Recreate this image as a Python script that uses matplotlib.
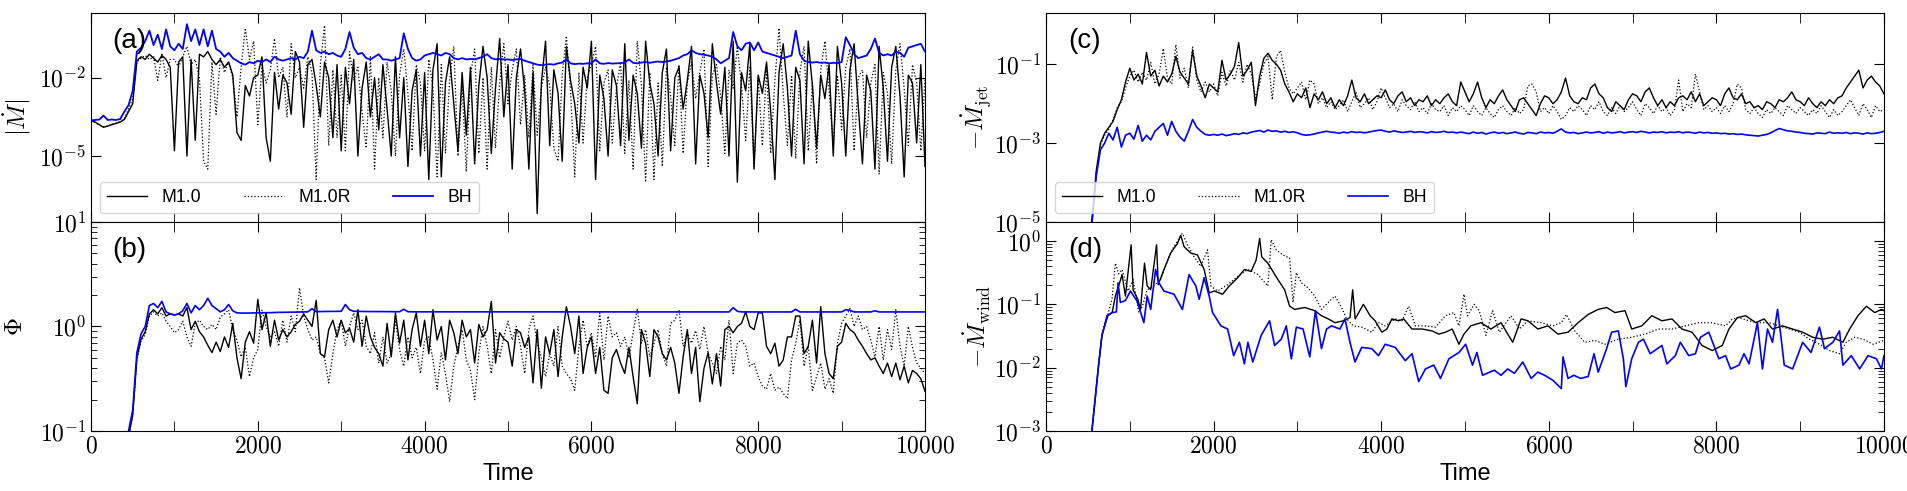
import numpy as np
import matplotlib
matplotlib.use('Agg')
import matplotlib.pyplot as plt
from matplotlib.ticker import (FixedLocator, MultipleLocator, FuncFormatter,
                               NullFormatter, NullLocator, LogLocator)

plt.rcParams['font.family'] = ['Liberation Sans', 'DejaVu Sans']
plt.rcParams['mathtext.fontset'] = 'cm'

# sample times for panels (a)-(c), every 50 time units
time = np.arange(0, 10001, 50)

# ---- panel (a): log10 |Mdot| ----
m10_a = [
    -3.65, -3.70, -3.80, -3.90, -3.85, -3.80, -3.75, -3.70, -3.60, -3.30,
    -3.00, -1.35, -1.20, -1.30, -1.10, -1.25, -1.40, -1.15, -1.30, -1.60,
    -4.80, -1.40, -1.20, -5.00, -1.30, -4.40, -1.10, -1.20, -1.00, -1.30,
    -1.50, -1.30, -1.60, -1.40, -1.90, -4.10, -4.40, -2.30, -2.70, -2.00,
    -1.90, -1.20, -4.30, -5.20, -1.80, -3.20, -1.90, -2.20, -3.40, -1.00,
    -1.40, -3.90, -1.50, -1.30, -2.30, -3.50, -1.40, -2.00, -4.30, -1.50,
    -4.80, -1.60, -3.00, -1.30, -5.00, -2.40, -1.40, -3.50, -2.00, -4.00,
    -1.50, -3.20, -5.00, -1.20, -4.30, -2.00, -5.40, -2.50, -1.70, -5.00,
    -1.80, -5.90, -1.70, -0.70, -5.80, -2.20, -1.20, -3.00, -4.80, -1.80,
    -4.20, -1.60, -5.30, -2.30, -0.80, -2.00, -4.90, -2.40, -0.50, -3.50,
    -1.50, -5.50, -2.00, -0.90, -2.50, -5.50, -1.80, -7.20, -2.20, -0.60,
    -4.60, -1.70, -2.60, -5.20, -0.80, -2.10, -3.00, -4.50, -1.60, -2.40,
    -0.60, -5.90, -1.90, -2.80, -5.00, -1.70, -2.30, -4.60, -0.70, -4.40,
    -1.90, -2.60, -4.70, -0.60, -2.20, -3.00, -5.00, -1.80, -0.90, -4.80,
    -2.00, -1.60, -3.20, -2.10, -0.80, -5.30, -1.90, -2.60, -4.30, -0.70,
    -2.20, -3.40, -1.60, -5.00, -0.60, -6.00, -1.80, -2.50, -0.70, -5.50,
    -1.90, -2.60, -1.40, -3.30, -5.90, -1.80, -0.70, -2.40, -5.00, -1.60,
    -2.10, -5.30, -0.60, -2.30, -4.70, -1.90, -2.80, -1.50, -5.00, -0.80,
    -2.20, -5.00, -1.70, -0.70, -3.10, -5.30, -1.90, -2.50, -5.50, -0.80,
    -2.40, -5.20, -1.60, -0.80, -2.70, -5.80, -1.90, -2.20, -4.50, -1.50,
    -5.40]
m10r_a = [
    -3.66, -3.72, -3.82, -3.88, -3.86, -3.78, -3.74, -3.68, -3.55, -3.20,
    -2.80, -1.40, -1.25, -1.15, -1.30, -1.20, -2.10, -1.10, -2.00, -1.30,
    -1.30, -1.60, -1.20, -0.80, -1.50, -1.30, -2.00, -5.20, -5.50, -1.40,
    -3.40, -1.20, -1.80, -1.40, -2.00, -3.50, -1.60, -0.10, -1.30, -0.60,
    -3.80, -1.50, -2.20, -1.70, -0.50, -2.00, -1.60, -3.50, -0.70, -2.00,
    -1.60, -2.40, -1.20, -1.80, -5.90, -1.50, 0.00, -4.60, -1.70, -4.30,
    -1.90, -4.80, -1.00, -2.10, -1.60, -3.30, -4.70, -1.20, -5.50, -2.00,
    -4.30, -1.40, -2.50, -5.00, -1.90, -0.90, -2.60, -4.80, -1.50, -2.20,
    -4.80, -1.30, -2.40, -5.80, -1.50, -4.90, -2.10, -0.80, -5.00, -2.30,
    -5.60, -1.90, -0.90, -4.90, -2.00, -5.50, -1.60, -4.70, -2.20, -0.70,
    -3.00, -1.70, -0.90, -3.80, -1.90, -4.30, -1.50, -4.20, -2.40, -1.60,
    -2.30, -4.70, -5.20, -1.90, -0.40, -2.50, -5.80, -1.80, -4.50, -2.00,
    -1.50, -0.80, -4.80, -2.20, -1.70, -4.50, -2.40, -1.40, -4.90, -2.10,
    -5.50, -0.60, -2.30, -6.00, -1.80, -5.90, -2.20, -5.40, -1.60, -2.70,
    -4.60, -1.50, -4.90, -2.20, -1.40, -2.80, -1.80, -0.90, -5.40, -1.90,
    -1.50, -2.70, -4.90, -1.70, -2.40, -0.80, -2.30, -4.40, -1.60, -5.40,
    -2.00, -4.60, -1.70, -4.90, -2.10, -0.10, -2.60, -4.60, -1.90, -5.10,
    -1.80, -0.80, -4.80, -2.20, -5.30, -1.70, -0.60, -2.50, -4.60, -1.90,
    -4.00, -1.60, -0.90, -4.80, -2.00, -1.70, -4.30, -2.20, -1.50, -5.70,
    -1.80, -2.60, -5.30, -1.70, -0.70, -2.40, -4.60, -1.50, -2.20, -4.80,
    -2.00]
bh_a = [
    -3.63, -3.62, -3.60, -3.45, -3.62, -3.60, -3.62, -3.58, -3.30, -3.05,
    -2.50, -1.00, -0.85, -0.60, -0.20, -0.75, -0.35, -0.90, -0.15, -0.80,
    -0.95, -0.70, -0.90, 0.05, -0.60, -0.15, -0.75, -0.15, -0.80, -0.20,
    -0.90, -1.00, -1.20, -1.05, -1.25, -1.35, -1.45, -1.50, -1.40, -1.45,
    -1.35, -1.40, -1.30, -1.40, -1.20, -1.30, -1.35, -1.30, -1.25, -1.30,
    -1.20, -1.25, -1.00, -0.20, -0.95, -1.05, -1.00, -1.10, -1.05, -1.15,
    -1.20, -0.90, -0.25, -0.85, -1.10, -1.05, -1.25, -1.30, -1.20, -1.10,
    -1.30, -1.30, -1.35, -1.30, -1.25, -0.30, -0.90, -1.25, -1.35, -1.30,
    -1.15, -1.10, -1.05, -1.10, -1.15, -1.05, -1.10, -1.25, -1.30, -1.25,
    -1.30, -1.28, -1.30, -1.25, -1.20, -1.10, -1.25, -1.30, -1.28, -1.30,
    -1.30, -1.32, -1.30, -1.28, -1.35, -1.40, -1.45, -1.50, -1.52, -1.50,
    -1.48, -1.50, -1.45, -1.42, -1.30, -1.45, -1.48, -1.46, -1.47, -1.45,
    -1.45, -1.30, -1.45, -1.47, -1.44, -1.46, -1.45, -1.44, -1.42, -1.30,
    -1.43, -1.45, -1.42, -1.40, -1.43, -1.40, -1.38, -1.40, -1.38, -1.35,
    -1.30, -1.25, -1.15, -1.10, -0.95, -1.05, -1.10, -1.12, -1.15, -1.20,
    -1.30, -1.45, -1.35, -1.25, -0.25, -0.80, -0.95, -0.70, -0.65, -0.95,
    -0.65, -1.00, -1.05, -1.10, -1.15, -1.20, -1.25, -1.20, -1.15, -0.20,
    -1.10, -1.35, -1.40, -1.42, -1.40, -1.43, -1.42, -1.45, -1.43, -1.44,
    -1.40, -0.45, -0.75, -1.10, -1.25, -1.20, -1.15, -0.90, -0.50, -1.05,
    -1.15, -1.10, -1.15, -1.00, -1.05, -1.20, -0.85, -0.80, -0.75, -0.70,
    -1.00]

# ---- panel (b): log10 Phi ----
m10_b = [
    -1.60, -1.60, -1.60, -1.60, -1.60, -1.60, -1.60, -1.50, -1.35, -1.05,
    -0.85, -0.30, -0.12, -0.05, 0.12, 0.16, 0.12, 0.18, 0.10, 0.12,
    0.11, 0.12, 0.10, 0.18, -0.03, 0.05, -0.05, -0.10, -0.18, -0.25,
    -0.15, -0.24, -0.10, -0.20, 0.03, -0.30, -0.50, -0.15, -0.05, -0.16,
    0.26, -0.03, 0.13, -0.19, 0.06, -0.13, -0.03, -0.10, -0.05, 0.02,
    0.05, 0.12, 0.06, 0.00, 0.25, -0.26, -0.29, -0.03, 0.06, -0.10,
    0.06, -0.06, -0.02, -0.15, 0.16, -0.19, 0.10, -0.10, -0.20, -0.26,
    -0.38, 0.03, -0.29, 0.13, -0.16, 0.06, -0.32, -0.03, 0.13, -0.19,
    0.06, -0.26, 0.16, -0.13, 0.00, -0.32, 0.06, -0.06, -0.26, 0.06,
    -0.10, -0.03, -0.35, 0.02, -0.10, -0.03, 0.24, -0.35, -0.06, -0.12,
    -0.15, -0.38, -0.03, -0.06, -0.20, -0.10, -0.54, -0.03, -0.59, -0.10,
    -0.26, -0.03, -0.48, -0.10, 0.19, 0.00, -0.26, 0.10, -0.45, -0.20,
    -0.10, -0.45, -0.20, -0.61, -0.64, -0.30, -0.22, -0.35, -0.45, -0.20,
    -0.48, -0.74, -0.03, -0.16, -0.48, -0.03, -0.10, -0.26, -0.32, -0.20,
    -0.35, -0.64, -0.29, -0.03, -0.45, -0.20, -0.72, -0.40, -0.25, -0.55,
    -0.26, -0.57, -0.03, 0.00, -0.06, 0.00, 0.03, 0.14, 0.00, -0.03,
    0.13, 0.13, -0.19, -0.26, -0.16, -0.38, -0.32, -0.10, -0.10, 0.10,
    0.10, -0.26, -0.19, 0.06, -0.35, 0.19, -0.26, -0.45, -0.50, -0.19,
    -0.15, 0.03, -0.03, -0.06, -0.13, -0.19, -0.26, -0.32, -0.30, -0.38,
    -0.45, -0.35, -0.48, -0.35, -0.51, -0.38, -0.54, -0.42, -0.45, -0.50,
    -0.62]
m10r_b = [
    -1.60, -1.60, -1.60, -1.60, -1.60, -1.60, -1.60, -1.50, -1.35, -1.05,
    -0.85, -0.32, -0.14, -0.08, 0.10, 0.14, 0.10, 0.13, 0.05, 0.00,
    -0.06, -0.03, 0.05, -0.10, -0.19, 0.03, 0.06, 0.00, -0.03, 0.02,
    -0.03, 0.09, 0.12, 0.16, -0.03, -0.13, -0.29, -0.20, -0.48, -0.30,
    -0.22, 0.16, 0.00, -0.10, -0.05, -0.19, 0.06, -0.15, 0.10, -0.05,
    0.37, 0.10, -0.03, -0.13, -0.10, -0.26, -0.30, -0.54, -0.26, -0.03,
    0.06, -0.19, 0.00, 0.13, -0.03, 0.06, -0.19, -0.26, -0.06, -0.35,
    -0.10, -0.35, -0.26, 0.06, -0.22, -0.38, -0.10, -0.30, -0.20, -0.45,
    -0.13, -0.10, -0.32, -0.60, -0.25, -0.45, -0.72, -0.38, -0.19, -0.03,
    -0.32, -0.42, -0.70, -0.26, 0.00, -0.19, -0.45, -0.03, -0.30, -0.10,
    0.05, -0.13, 0.00, -0.19, -0.45, -0.03, 0.10, -0.16, -0.30, -0.48,
    -0.26, -0.38, 0.00, -0.38, -0.45, -0.50, -0.61, -0.20, 0.06, -0.19,
    -0.06, -0.30, 0.13, -0.32, 0.10, -0.10, -0.06, -0.19, -0.10, -0.30,
    -0.06, 0.17, -0.16, -0.03, -0.29, -0.16, -0.03, -0.26, -0.38, 0.03,
    0.06, 0.16, -0.19, -0.06, -0.16, -0.04, -0.22, 0.00, -0.26, -0.35,
    -0.45, -0.19, -0.32, 0.06, -0.45, -0.16, -0.13, -0.19, -0.38, -0.35,
    -0.48, -0.57, -0.60, -0.45, -0.61, -0.58, -0.64, -0.69, -0.32, -0.16,
    0.06, -0.38, -0.19, -0.61, -0.48, -0.35, -0.60, -0.50, -0.64, -0.16,
    0.03, 0.10, 0.17, 0.00, 0.10, -0.03, 0.00, -0.13, -0.29, 0.00,
    -0.32, -0.03, -0.22, 0.16, -0.19, -0.38, 0.00, -0.20, -0.35, -0.40,
    -0.45]
bh_b = [
    -1.60, -1.60, -1.60, -1.60, -1.60, -1.60, -1.60, -1.50, -1.30, -1.00,
    -0.80, -0.25, -0.07, 0.00, 0.20, 0.22, 0.18, 0.24, 0.14, 0.12,
    0.11, 0.12, 0.15, 0.22, 0.13, 0.20, 0.16, 0.20, 0.27, 0.20,
    0.17, 0.14, 0.16, 0.21, 0.15, 0.13, 0.128, 0.128, 0.128, 0.130,
    0.130, 0.130, 0.132, 0.132, 0.134, 0.135, 0.135, 0.136, 0.137, 0.138,
    0.139, 0.140, 0.140, 0.170, 0.142, 0.143, 0.143, 0.144, 0.144, 0.145,
    0.145, 0.210, 0.160, 0.145, 0.144, 0.144, 0.143, 0.143, 0.142, 0.142,
    0.142, 0.142, 0.141, 0.141, 0.141, 0.165, 0.141, 0.140, 0.140, 0.140,
    0.140, 0.140, 0.140, 0.140, 0.139, 0.139, 0.139, 0.139, 0.139, 0.139,
    0.139, 0.139, 0.139, 0.139, 0.139, 0.139, 0.139, 0.139, 0.139, 0.139,
    0.139, 0.139, 0.139, 0.139, 0.139, 0.139, 0.139, 0.139, 0.139, 0.139,
    0.139, 0.139, 0.139, 0.139, 0.139, 0.139, 0.139, 0.139, 0.139, 0.139,
    0.139, 0.139, 0.139, 0.139, 0.139, 0.139, 0.139, 0.139, 0.139, 0.139,
    0.139, 0.139, 0.139, 0.139, 0.139, 0.139, 0.139, 0.139, 0.139, 0.139,
    0.139, 0.139, 0.139, 0.139, 0.139, 0.139, 0.139, 0.139, 0.139, 0.139,
    0.139, 0.139, 0.139, 0.139, 0.180, 0.145, 0.139, 0.139, 0.139, 0.139,
    0.139, 0.139, 0.139, 0.139, 0.139, 0.139, 0.139, 0.139, 0.139, 0.165,
    0.139, 0.139, 0.139, 0.139, 0.139, 0.139, 0.139, 0.139, 0.139, 0.139,
    0.139, 0.160, 0.155, 0.139, 0.139, 0.139, 0.139, 0.139, 0.150, 0.139,
    0.139, 0.139, 0.139, 0.139, 0.139, 0.139, 0.139, 0.139, 0.139, 0.139,
    0.139]

# ---- panel (c): log10 (-Mdot_jet) ----
m10_c = [
    -6.50, -6.50, -6.50, -6.50, -6.50, -6.50, -6.50, -6.50, -6.50, -6.00,
    -5.80, -4.90, -3.70, -3.00, -2.75, -2.60, -2.45, -2.15, -1.90, -1.45,
    -1.10, -1.40, -1.25, -1.50, -0.70, -1.30, -1.15, -1.55, -1.30, -1.45,
    -1.25, -0.80, -1.20, -1.35, -1.50, -0.65, -1.30, -1.55, -1.85, -1.50,
    -1.60, -1.70, -0.90, -1.40, -1.25, -1.05, -0.45, -1.30, -1.15, -0.95,
    -2.05, -1.30, -0.85, -0.72, -0.90, -1.00, -1.15, -1.50, -1.70, -1.95,
    -1.75, -1.85, -1.60, -2.10, -1.75, -1.90, -1.70, -2.00, -1.85, -2.10,
    -1.90, -2.05, -1.80, -1.40, -1.85, -1.95, -1.75, -2.00, -1.90, -1.80,
    -1.85, -1.65, -1.90, -2.00, -1.80, -1.70, -1.95, -1.85, -2.05, -1.90,
    -1.95, -1.80, -2.05, -1.90, -2.00, -1.85, -1.75, -1.95, -2.05, -1.45,
    -1.70, -1.95, -1.75, -1.45, -1.85, -2.10, -1.90, -2.00, -1.80, -1.65,
    -1.90, -2.05, -2.20, -1.90, -1.85, -2.00, -2.15, -2.30, -2.00, -1.80,
    -1.85, -2.00, -1.90, -1.70, -1.35, -1.80, -1.95, -2.00, -1.85, -1.90,
    -1.60, -1.50, -1.75, -1.85, -2.10, -2.20, -1.95, -2.05, -2.15, -1.90,
    -1.75, -1.80, -1.95, -1.70, -1.60, -1.85, -2.05, -1.90, -2.10, -1.95,
    -2.05, -1.85, -1.80, -1.90, -1.70, -1.95, -1.75, -2.05, -1.95, -1.85,
    -1.90, -2.05, -1.75, -1.60, -1.85, -1.90, -1.75, -2.00, -1.95, -2.10,
    -2.05, -2.15, -1.95, -2.00, -2.10, -1.90, -1.95, -1.85, -1.70, -1.90,
    -1.95, -2.05, -1.85, -2.00, -2.10, -1.95, -2.05, -1.90, -2.00, -1.85,
    -1.80, -1.60, -1.45, -1.30, -1.15, -1.60, -1.40, -1.30, -1.45, -1.55,
    -1.75]
m10r_c = [
    -6.50, -6.50, -6.50, -6.50, -6.50, -6.50, -6.50, -6.50, -6.50, -6.00,
    -5.80, -5.00, -3.75, -3.05, -2.80, -2.65, -2.40, -2.10, -1.95, -1.60,
    -1.30, -1.15, -1.45, -1.20, -1.40, -0.95, -1.50, -1.25, -0.60, -1.35,
    -1.50, -0.50, -1.35, -1.10, -1.60, -0.55, -1.40, -1.70, -1.45, -1.70,
    -1.50, -1.80, -1.20, -1.55, -1.15, -1.40, -0.95, -1.45, -1.00, -1.25,
    -1.85, -1.50, -1.00, -0.80, -1.90, -0.80, -0.65, -1.20, -1.60, -1.75,
    -1.60, -1.45, -1.90, -1.40, -1.50, -2.00, -1.85, -2.10, -1.95, -2.15,
    -2.05, -1.90, -2.20, -1.95, -1.70, -2.10, -2.00, -1.85, -2.15, -1.95,
    -1.60, -1.85, -2.10, -2.00, -2.20, -1.90, -2.05, -2.15, -1.95, -2.20,
    -2.10, -2.25, -2.00, -2.15, -2.20, -2.05, -2.30, -2.10, -2.20, -2.05,
    -2.15, -2.30, -2.05, -2.20, -2.30, -2.10, -2.25, -2.35, -2.15, -2.05,
    -2.20, -2.30, -2.10, -2.25, -2.15, -1.55, -1.50, -1.70, -2.20, -2.10,
    -2.25, -2.05, -2.20, -2.40, -2.30, -2.10, -2.20, -2.05, -2.15, -2.30,
    -2.05, -2.15, -1.95, -2.20, -2.30, -2.10, -2.25, -2.05, -2.20, -2.10,
    -1.95, -2.15, -2.30, -2.00, -2.10, -2.25, -2.05, -2.20, -2.10, -2.30,
    -2.15, -1.40, -2.20, -2.00, -2.10, -1.25, -1.70, -2.15, -2.05, -2.20,
    -2.10, -2.25, -2.05, -2.20, -2.00, -1.50, -1.60, -2.15, -2.25, -2.10,
    -2.25, -2.35, -2.15, -2.25, -2.10, -2.20, -2.30, -2.05, -2.15, -2.25,
    -2.10, -2.20, -2.30, -2.15, -2.25, -2.05, -2.20, -2.35, -2.15, -2.30,
    -2.20, -2.05, -1.90, -2.10, -2.30, -2.00, -2.15, -2.35, -2.05, -2.20,
    -2.15]
bh_c = [
    -6.50, -6.50, -6.50, -6.50, -6.50, -6.50, -6.50, -6.50, -6.50, -6.00,
    -5.60, -5.00, -3.84, -3.17, -3.00, -2.75, -2.92, -2.60, -3.10, -2.80,
    -2.75, -2.90, -2.55, -2.95, -2.80, -2.92, -2.70, -2.60, -2.50, -2.80,
    -2.45, -2.70, -2.85, -2.95, -2.70, -2.40, -2.60, -2.70, -2.78, -2.80,
    -2.78, -2.80, -2.77, -2.81, -2.79, -2.76, -2.78, -2.74, -2.76, -2.72,
    -2.70, -2.68, -2.72, -2.67, -2.70, -2.69, -2.72, -2.70, -2.73, -2.71,
    -2.74, -2.78, -2.80, -2.79, -2.77, -2.74, -2.72, -2.70, -2.72, -2.73,
    -2.75, -2.72, -2.74, -2.71, -2.73, -2.72, -2.74, -2.72, -2.70, -2.68,
    -2.67, -2.70, -2.72, -2.69, -2.71, -2.73, -2.72, -2.70, -2.73, -2.71,
    -2.72, -2.74, -2.71, -2.73, -2.72, -2.70, -2.73, -2.72, -2.74, -2.72,
    -2.74, -2.76, -2.72, -2.75, -2.73, -2.77, -2.74, -2.72, -2.75, -2.73,
    -2.76, -2.74, -2.72, -2.75, -2.77, -2.73, -2.74, -2.76, -2.72, -2.74,
    -2.73, -2.75, -2.70, -2.64, -2.72, -2.74, -2.73, -2.76, -2.74, -2.72,
    -2.74, -2.73, -2.71, -2.75, -2.72, -2.74, -2.73, -2.71, -2.74, -2.72,
    -2.71, -2.73, -2.70, -2.72, -2.74, -2.72, -2.73, -2.71, -2.74, -2.72,
    -2.73, -2.71, -2.74, -2.72, -2.73, -2.75, -2.72, -2.74, -2.73, -2.75,
    -2.74, -2.76, -2.75, -2.77, -2.76, -2.78, -2.77, -2.79, -2.80, -2.81,
    -2.82, -2.80, -2.78, -2.74, -2.68, -2.63, -2.66, -2.69, -2.70, -2.72,
    -2.73, -2.75, -2.76, -2.77, -2.74, -2.75, -2.76, -2.72, -2.75, -2.74,
    -2.75, -2.73, -2.76, -2.74, -2.75, -2.77, -2.74, -2.76, -2.75, -2.73,
    -2.70]

# ---- panel (d): log10 (-Mdot_wind), read at irregular times ----
t_m10_d = [
    0, 500, 548, 588, 628, 668, 700, 740, 790, 828,
    868, 908, 948, 1016, 1040, 1096, 1128, 1176, 1208, 1250,
    1320, 1340, 1408, 1488, 1568, 1608, 1648, 1728, 1808, 1888,
    1948, 2008, 2108, 2188, 2288, 2368, 2448, 2508, 2550, 2575,
    2648, 2708, 2768, 2848, 2908, 2968, 3088, 3208, 3288, 3368,
    3448, 3548, 3628, 3660, 3690, 3788, 3868, 3928, 4008, 4068,
    4128, 4208, 4268, 4368, 4488, 4608, 4688, 4768, 4848, 4928,
    4988, 5070, 5190, 5310, 5430, 5570, 5670, 5750, 5870, 5990,
    6110, 6230, 6350, 6470, 6590, 6690, 6790, 6910, 6990, 7110,
    7230, 7350, 7470, 7590, 7710, 7830, 7950, 8070, 8150, 8250,
    8350, 8470, 8570, 8670, 8790, 8910, 9030, 9150, 9270, 9390,
    9510, 9590, 9690, 9790, 9890, 9970, 10000]
m10_d = [
    -4.00, -4.00, -3.00, -2.48, -1.96, -1.49, -1.34, -1.18, -1.13, -0.87,
    -0.71, -0.53, -0.87, -0.06, -0.77, -0.92, -1.08, -0.35, -0.71, -0.77,
    -0.06, -0.69, -0.45, -0.19, -0.04, 0.09, -0.09, -0.19, -0.22, -0.45,
    -0.82, -0.79, -0.84, -0.71, -0.58, -0.45, -0.48, -0.30, 0.04, -0.25,
    -0.35, -0.48, -0.61, -0.77, -1.03, -1.08, -1.05, -1.10, -1.18, -1.23,
    -1.29, -1.26, -1.21, -0.77, -1.23, -1.00, -1.18, -1.26, -1.44, -1.39,
    -1.23, -1.26, -1.23, -1.39, -1.39, -1.42, -1.47, -1.44, -1.39, -1.63,
    -1.47, -1.34, -1.29, -1.39, -1.29, -1.60, -1.23, -1.26, -1.39, -1.34,
    -1.47, -1.44, -1.29, -1.16, -1.08, -1.05, -1.13, -1.10, -1.39, -1.34,
    -1.18, -1.26, -1.23, -1.39, -1.44, -1.65, -1.73, -1.65, -1.39, -1.21,
    -1.18, -1.29, -1.23, -1.39, -1.34, -1.39, -1.44, -1.52, -1.55, -1.52,
    -1.60, -1.39, -1.18, -1.03, -1.13, -1.08, -1.10]
t_m10r_d = [
    0, 500, 548, 588, 628, 668, 700, 740, 788, 828,
    868, 908, 980, 1040, 1108, 1150, 1208, 1288, 1368, 1468,
    1528, 1628, 1688, 1768, 1848, 1928, 1968, 2048, 2168, 2288,
    2408, 2528, 2648, 2688, 2748, 2828, 2908, 2948, 2988, 3048,
    3128, 3208, 3288, 3368, 3448, 3528, 3588, 3668, 3768, 3888,
    3968, 4048, 4168, 4248, 4328, 4408, 4528, 4648, 4768, 4868,
    4928, 4988, 5030, 5110, 5170, 5250, 5330, 5410, 5550, 5650,
    5750, 5910, 6050, 6150, 6210, 6310, 6430, 6550, 6670, 6830,
    6990, 7150, 7310, 7470, 7630, 7790, 7950, 8110, 8190, 8270,
    8390, 8510, 8630, 8750, 8870, 8990, 9110, 9230, 9350, 9470,
    9550, 9650, 9750, 9870, 10000]
m10r_d = [
    -4.00, -4.00, -3.00, -2.48, -1.96, -1.49, -1.30, -1.15, -0.92, -0.35,
    -0.52, -0.45, -0.79, -0.61, -1.13, -1.03, -0.77, -0.71, -0.61, -0.25,
    -0.09, 0.12, -0.06, -0.25, -0.40, -0.14, -0.71, -0.79, -0.69, -0.56,
    -0.45, -0.53, -0.71, 0.02, -0.14, -0.22, -0.27, -0.97, -0.50, -0.66,
    -0.74, -0.87, -1.08, -0.97, -0.87, -1.05, -1.23, -1.34, -1.36, -1.44,
    -1.29, -1.34, -1.23, -1.26, -1.03, -1.34, -1.34, -1.36, -1.18, -1.13,
    -1.34, -0.84, -1.18, -1.00, -1.10, -1.49, -1.10, -1.44, -1.18, -1.39,
    -1.26, -1.29, -1.34, -1.29, -1.16, -1.42, -1.60, -1.57, -1.63, -1.55,
    -1.52, -1.47, -1.39, -1.39, -1.34, -1.29, -1.29, -1.34, -1.23, -1.21,
    -1.26, -1.29, -1.29, -1.34, -1.39, -1.44, -1.55, -1.63, -1.73, -1.78,
    -1.60, -1.52, -1.55, -1.63, -1.57]
t_bh_d = [
    0, 500, 548, 588, 628, 668, 700, 728, 790, 840,
    860, 888, 948, 1008, 1088, 1168, 1208, 1250, 1308, 1348,
    1408, 1528, 1628, 1708, 1788, 1828, 1888, 1948, 1988, 2088,
    2168, 2240, 2308, 2368, 2410, 2468, 2568, 2668, 2728, 2808,
    2868, 2928, 2988, 3068, 3148, 3216, 3288, 3348, 3408, 3508,
    3568, 3628, 3688, 3768, 3888, 3968, 4048, 4168, 4288, 4368,
    4448, 4528, 4628, 4708, 4808, 4928, 5008, 5090, 5142, 5210,
    5350, 5430, 5510, 5590, 5690, 5790, 5870, 5950, 6050, 6150,
    6170, 6230, 6300, 6380, 6470, 6540, 6590, 6690, 6750, 6830,
    6890, 6920, 6990, 7070, 7130, 7210, 7350, 7410, 7510, 7570,
    7670, 7750, 7810, 7910, 8030, 8110, 8170, 8270, 8330, 8390,
    8490, 8550, 8610, 8670, 8730, 8770, 8810, 8910, 9030, 9130,
    9230, 9290, 9390, 9470, 9510, 9610, 9710, 9810, 9910, 9970,
    10000]
bh_d = [
    -4.00, -4.00, -3.00, -2.48, -1.96, -1.49, -1.34, -1.18, -1.13, -1.12,
    -0.66, -0.97, -0.94, -0.79, -0.95, -1.29, -0.87, -1.08, -0.45, -0.66,
    -0.79, -0.84, -1.08, -0.53, -0.71, -0.92, -0.58, -0.87, -1.13, -1.34,
    -1.39, -1.81, -1.60, -1.94, -1.60, -1.91, -1.49, -1.26, -1.65, -1.55,
    -1.34, -1.86, -1.36, -1.39, -1.83, -1.10, -1.70, -1.39, -1.34, -1.39,
    -1.23, -1.60, -1.91, -1.68, -1.70, -1.81, -1.63, -1.68, -1.89, -1.78,
    -2.22, -2.02, -1.96, -2.17, -1.86, -1.76, -1.63, -1.96, -1.76, -2.12,
    -2.04, -2.12, -2.02, -2.09, -1.91, -2.17, -2.07, -2.12, -2.20, -2.33,
    -1.83, -2.17, -2.12, -2.17, -2.14, -1.78, -2.07, -1.70, -1.44, -1.42,
    -1.86, -2.30, -1.86, -1.60, -1.55, -1.78, -1.65, -1.94, -1.81, -1.60,
    -1.81, -1.78, -1.52, -1.44, -1.86, -1.81, -2.02, -1.96, -1.78, -1.94,
    -1.29, -2.02, -1.39, -1.60, -1.08, -1.50, -1.96, -2.02, -1.60, -1.76,
    -1.36, -1.70, -1.60, -1.42, -1.96, -1.81, -2.02, -1.81, -1.86, -2.02,
    -1.81]

labels = ['M1.0', 'M1.0R', 'BH']


def pw(v):
    return 10.0 ** np.asarray(v)


def log_fmt(v, pos):
    return r'$10^{%d}$' % round(np.log10(v))


def time_fmt(v, pos):
    return r'$%d$' % v


def style(ax, ylim, majors, minors, tag, ylabel, labx, xlabels):
    ax.set_yscale('log')
    ax.set_xlim(0, 10000)
    ax.set_ylim(*ylim)
    ax.yaxis.set_major_locator(FixedLocator(majors))
    ax.yaxis.set_major_formatter(FuncFormatter(log_fmt))
    if minors:
        ax.yaxis.set_minor_locator(LogLocator(base=10, subs=np.arange(2, 10), numticks=20))
    else:
        ax.yaxis.set_minor_locator(NullLocator())
    ax.yaxis.set_minor_formatter(NullFormatter())
    ax.xaxis.set_major_locator(MultipleLocator(2000))
    ax.xaxis.set_minor_locator(MultipleLocator(1000))
    ax.xaxis.set_major_formatter(FuncFormatter(time_fmt))
    ax.tick_params(which='both', direction='in', top=True, right=True, labelsize=17)
    ax.tick_params(axis='x', which='both', length=7)
    ax.tick_params(axis='y', which='major', length=7)
    ax.tick_params(axis='y', which='minor', length=4)
    if not xlabels:
        ax.tick_params(labelbottom=False)
    else:
        ax.set_xlabel('Time', fontsize=17)
    ax.set_ylabel(ylabel, fontsize=18)
    ax.yaxis.set_label_coords(labx, 0.5)
    ax.text(0.026, 0.93, tag, transform=ax.transAxes, fontsize=20, va='top', ha='left')


fig = plt.figure(figsize=(19.08, 4.91), dpi=100)
ax_a = fig.add_axes([0.0477, 0.548, 0.4371, 0.4255])
ax_b = fig.add_axes([0.0477, 0.1222, 0.4371, 0.4258])
ax_c = fig.add_axes([0.5482, 0.548, 0.4392, 0.4255])
ax_d = fig.add_axes([0.5482, 0.1222, 0.4392, 0.4258])

ax_a.plot(time, pw(m10_a), color='black', lw=1.0, label=labels[0])
ax_a.plot(time, pw(m10r_a), color='black', lw=0.9, ls=':', label=labels[1])
ax_a.plot(time, pw(bh_a), color='blue', lw=1.3, label=labels[2])
style(ax_a, (3e-8, 3.0), [1e-5, 1e-2], False, '(a)', r'$|\dot{M}|$', -0.07, False)
ax_a.legend(loc='lower left', ncol=3, fontsize=12.7, handlelength=2.3, columnspacing=2.4)

ax_b.plot(time, pw(m10_b), color='black', lw=1.0)
ax_b.plot(time, pw(m10r_b), color='black', lw=0.9, ls=':')
ax_b.plot(time, pw(bh_b), color='blue', lw=1.2)
style(ax_b, (0.1, 10.0), [0.1, 1.0, 10.0], True, '(b)', r'$\Phi$', -0.077, True)

ax_c.plot(time, pw(m10_c), color='black', lw=1.0, label=labels[0])
ax_c.plot(time, pw(m10r_c), color='black', lw=0.9, ls=':', label=labels[1])
ax_c.plot(time, pw(bh_c), color='blue', lw=1.2, label=labels[2])
style(ax_c, (1e-5, 2.0), [1e-5, 1e-3, 1e-1], False, '(c)', r'$-\dot{M}_{\rm jet}$', -0.063, False)
ax_c.legend(loc='lower left', ncol=3, fontsize=12.7, handlelength=2.3, columnspacing=2.4)

ax_d.plot(t_m10_d, pw(m10_d), color='black', lw=1.0)
ax_d.plot(t_m10r_d, pw(m10r_d), color='black', lw=0.9, ls=':')
ax_d.plot(t_bh_d, pw(bh_d), color='blue', lw=1.2)
style(ax_d, (1e-3, 2.0), [1e-3, 1e-2, 1e-1, 1.0], True, '(d)', r'$-\dot{M}_{\rm wind}$', -0.063, True)

fig.savefig('out.png', dpi=100)
